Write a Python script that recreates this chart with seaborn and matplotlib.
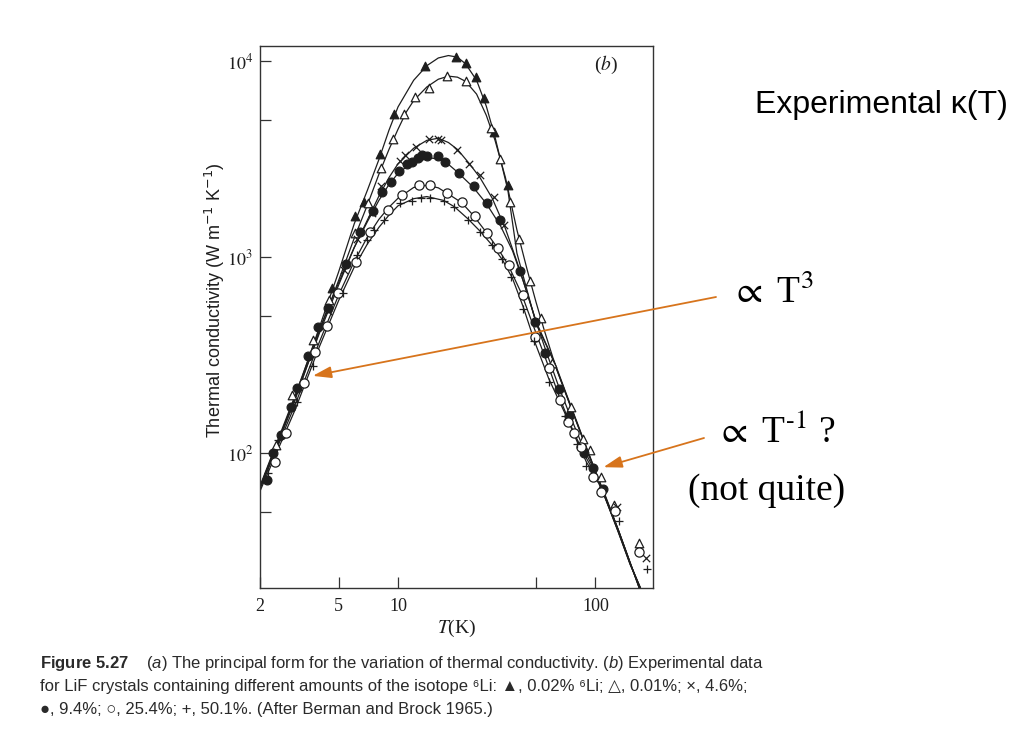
import matplotlib
matplotlib.use('Agg')
import matplotlib.pyplot as plt
import seaborn as sns
from matplotlib.ticker import FixedLocator, NullLocator

# ---- markers (T in K, kappa in W m^-1 K^-1) ----
# filled triangle, 0.02% 6Li
t_tri_full = [4.63, 6.09, 6.69, 8.11, 9.54, 13.7, 19.6, 22.0, 24.9, 27.3, 30.8, 35.9]
k_tri_full = [700, 1625, 1908, 3355, 5383, 9497, 10480, 9770, 8280, 6474, 4374, 2338]
# open triangle, 0.01%
t_tri_open = [2.42, 2.89, 3.7, 4.46, 6.06, 7.05, 8.2, 9.48, 10.7, 12.2, 14.4, 17.8, 22.2,
              29.6, 32.7, 37.1, 40.8, 46.5, 53.0, 60.3, 75.0, 86.0, 93.9, 107, 124, 167]
k_tri_open = [110, 198, 379, 606, 1335, 1900, 2866, 4030, 5383, 6550, 7280, 8414, 7935,
              4550, 3170, 1920, 1240, 754, 492, 288, 173, 118, 104, 75.4, 54.6, 34.6]
# cross, 4.6%
t_cross = [4.4, 5.3, 6.18, 7.42, 8.2, 10.2, 10.8, 12.3, 14.4, 15.9, 16.6, 20.0, 22.8,
           25.9, 30.5, 34.6, 128, 180]
k_cross = [530, 860, 1240, 1677, 2311, 3111, 3325, 3667, 4014, 4014, 3960, 3527, 2992,
           2630, 2039, 1462, 53, 29.2]
# filled circle, 9.4%
t_dot = [2.16, 2.32, 2.55, 2.87, 3.08, 3.51, 3.92, 4.41, 5.45, 6.43, 7.51, 8.34, 9.18,
         10.1, 11.06, 11.8, 12.6, 13.3, 13.95, 15.9, 17.2, 20.3, 24.2, 28.3, 33.0, 41.6,
         49.5, 55.7, 65.6, 73.7, 87.7, 96.9, 108.7]
k_dot = [73, 100, 124, 173, 215, 313, 442, 549, 924, 1351, 1723, 2161, 2430,
         2766, 2992, 3074, 3200, 3325, 3288, 3288, 3074, 2683, 2311, 1886, 1550, 850,
         469, 324, 212, 155, 100, 84, 65.5]
# open circle, 25.4%
t_ring = [2.37, 2.70, 3.35, 3.79, 4.35, 4.98, 6.1, 7.22, 8.9, 10.5, 12.8, 14.6, 17.7,
          21.1, 24.4, 28.3, 32.0, 36.4, 42.8, 49.6, 58.2, 66.4, 72.9, 77.6, 84.0, 97.5,
          107, 125.6, 167]
k_ring = [90.6, 127, 229, 330, 446, 660, 950, 1351, 1743, 2079, 2338, 2338, 2121,
          1922, 1625, 1326, 1120, 913, 642, 393, 272, 187, 145, 127, 107, 76,
          63, 50.4, 31.3]
# plus, 50.1%
t_plus = [2.2, 2.48, 3.08, 3.7, 5.24, 6.18, 7.0, 7.56, 8.5, 10.2, 11.8, 13.1, 14.6, 17.1,
          19.3, 22.6, 26.0, 30.0, 33.6, 37.4, 42.8, 48.6, 58.5, 70.3, 80.7, 89.6, 132, 183]
k_plus = [79, 117, 183, 277, 655, 1027, 1226, 1378, 1550, 1886, 1945, 2000, 2000, 1945,
          1812, 1550, 1350, 1150, 977, 790, 545, 375, 230, 154, 112, 86, 44.8, 25.6]

# ---- drawn curves, read along the lines of the scan ----
ct_tri_full = [2.0, 3, 4, 5, 6, 7, 8, 9, 10, 12, 14, 16, 18, 20, 22, 25, 28, 31, 36, 40,
               45, 50, 61, 70, 80, 92, 110, 130, 150, 170]
ck_tri_full = [67, 190, 440, 840, 1480, 2200, 3150, 4450, 5850, 8000, 9500, 10400, 10700,
               10500, 9700, 8000, 5900, 4100, 2200, 1050, 680, 460, 300, 207, 145, 100, 62,
               40, 27, 20.2]
ct_tri_open = [2.0, 3, 4, 5, 6, 7, 8, 9, 10, 11, 12, 14, 16, 18, 20, 22, 25, 28, 31, 35,
               40, 45, 50, 55, 61, 70, 80, 92, 110, 130, 150, 170]
ck_tri_open = [66, 185, 420, 760, 1250, 1850, 2650, 3550, 4500, 5500, 6300, 7400, 8100,
               8400, 8300, 7900, 6800, 5300, 3950, 2550, 1380, 870, 590, 425, 305, 210, 147,
               101, 63, 40.5, 27.3, 20.2]
ct_cross = [2.0, 3, 4, 5, 6, 7, 8, 9, 10, 12, 14, 16, 18, 20, 23, 26, 30, 35, 40, 45, 50,
            61, 70, 80, 92, 110, 130, 150, 170]
ck_cross = [67, 190, 410, 720, 1120, 1550, 2050, 2550, 3000, 3600, 3950, 4050, 3850, 3550,
            3000, 2550, 2000, 1400, 950, 660, 470, 300, 207, 145, 100, 62, 40, 27, 20.2]
ct_dot = [2.0, 3, 4, 5, 6, 7, 8, 9, 10, 12, 14, 16, 18, 20, 24, 28, 33, 38, 43, 50, 56,
          65, 75, 88, 100, 110, 130, 150, 167]
ck_dot = [68, 195, 430, 740, 1120, 1520, 1950, 2350, 2680, 3080, 3220, 3180, 2980, 2720,
          2280, 1880, 1450, 1080, 760, 470, 335, 220, 152, 103, 80, 64, 41, 27.5, 20.4]
ct_ring = [2.0, 3, 4, 5, 6, 7, 8, 9, 10, 12, 14, 16, 18, 21, 24, 28, 32, 36, 42, 50, 58,
           66, 77, 88, 100, 110, 130, 150, 167]
ck_ring = [66, 175, 370, 640, 950, 1270, 1560, 1800, 2000, 2270, 2330, 2260, 2100, 1900,
           1640, 1340, 1110, 920, 660, 410, 275, 190, 130, 98, 78, 63, 41, 27.5, 20.4]
ct_plus = [2.0, 3, 4, 5, 6, 7, 8, 9, 10, 12, 14, 17, 19.3, 22.6, 26, 30, 34, 38, 43, 49,
           58, 70, 80, 90, 100, 110, 130, 150, 167]
ck_plus = [64, 165, 350, 600, 890, 1170, 1420, 1640, 1830, 1990, 2040, 1950, 1810, 1570,
           1360, 1150, 960, 780, 560, 375, 240, 160, 117, 90, 76, 62, 41, 27.5, 20.4]

x_ticks = [2, 5, 10, 50, 100]
x_tick_labels = ['2', '5', '10', '', '100']
y_ticks = [100, 1000, 10000]
y_tick_labels = [r'$10^{2}$', r'$10^{3}$', r'$10^{4}$']
y_minor = [50, 500, 5000]

ink = '#1e1e1e'
orange = '#d7741c'

sns.set_style('ticks')
plt.rcParams['mathtext.fontset'] = 'custom'
plt.rcParams['mathtext.rm'] = 'Liberation Sans'
plt.rcParams['mathtext.it'] = 'Liberation Sans:italic'
plt.rcParams['mathtext.bf'] = 'Liberation Sans:bold'
plt.rcParams['font.family'] = ['Liberation Sans', 'DejaVu Sans']

W, H = 1026, 748
fig = plt.figure(figsize=(W / 100, H / 100), dpi=100)
fig.patch.set_facecolor('white')
ax = fig.add_axes([260 / W, 1 - 588 / H, 393 / W, 542 / H])
ax.set_xscale('log')
ax.set_yscale('log')

series = [
    (t_tri_full, k_tri_full, ct_tri_full, ck_tri_full, '^', ink, 38),
    (t_tri_open, k_tri_open, ct_tri_open, ck_tri_open, '^', 'white', 38),
    (t_cross, k_cross, ct_cross, ck_cross, 'x', ink, 28),
    (t_dot, k_dot, ct_dot, ck_dot, 'o', ink, 40),
    (t_ring, k_ring, ct_ring, ck_ring, 'o', 'white', 44),
    (t_plus, k_plus, ct_plus, ck_plus, '+', ink, 34),
]

for t, k, ct, ck, mk, face, size in series:
    sns.lineplot(x=ct, y=ck, sort=False, estimator=None, color=ink, lw=0.9, ax=ax)
for t, k, ct, ck, mk, face, size in series:
    sns.scatterplot(x=t, y=k, marker=mk, color=face, edgecolor=ink, s=size,
                    linewidth=0.9, ax=ax, zorder=3)

ax.set_xlim(2.0, 195.6)
ax.set_ylim(20.5, 11970)

ax.xaxis.set_major_locator(FixedLocator(x_ticks))
ax.xaxis.set_minor_locator(NullLocator())
ax.set_xticklabels(x_tick_labels, fontfamily='Liberation Serif', fontsize=13, color=ink)
ax.yaxis.set_major_locator(FixedLocator(y_ticks))
ax.yaxis.set_minor_locator(FixedLocator(y_minor))
ax.set_yticklabels(y_tick_labels, fontsize=13, color=ink, math_fontfamily='stix')
ax.tick_params(axis='both', which='both', direction='in', length=8, width=0.9,
               color='#333333', top=False, right=False)
ax.tick_params(axis='x', pad=7)
ax.tick_params(axis='y', pad=5)
for sp in ax.spines.values():
    sp.set_visible(True)
    sp.set_color('#333333')
    sp.set_linewidth(1.0)

ax.set_ylabel(r'Thermal conductivity (W m$^{-1}$ K$^{-1}$)', fontsize=13, color=ink,
              math_fontfamily='dejavusans')
ax.yaxis.set_label_coords(-0.085, 0.53)
ax.set_xlabel(r'$T$(K)', fontsize=14, color=ink, fontfamily='Liberation Serif',
              math_fontfamily='stix', labelpad=2)
ax.text(0.88, 0.965, r'($b$)', transform=ax.transAxes, ha='center', va='center',
        fontsize=14, color=ink, fontfamily='Liberation Serif', math_fontfamily='stix')

# annotations on the slide
fig.text(755 / W, 1 - 113 / H, 'Experimental \u03ba(T)', fontsize=23, color='black',
         fontfamily='Liberation Sans', va='baseline')
fig.text(731 / W, 1 - 303 / H, r'$\propto$ T$^{3}$', fontsize=27, color='black',
         fontfamily='Liberation Serif', math_fontfamily='stix', va='baseline')
fig.text(716 / W, 1 - 443 / H, r'$\propto$ T$^{\text{-}1}$ ?', fontsize=27, color='black',
         fontfamily='Liberation Serif', math_fontfamily='stix', va='baseline')
fig.text(688 / W, 1 - 500 / H, '(not quite)', fontsize=27, color='black',
         fontfamily='Liberation Serif', va='baseline')

arrow = dict(arrowstyle='-|>,head_length=0.7,head_width=0.22', color=orange, lw=1.3,
             mutation_scale=16, shrinkA=0, shrinkB=0)
ax.annotate('', xy=(3.70, 248), xycoords='data', xytext=(716, H - 297),
            textcoords='figure pixels', arrowprops=arrow, annotation_clip=False)
ax.annotate('', xy=(109.7, 84.8), xycoords='data', xytext=(704, H - 438),
            textcoords='figure pixels', arrowprops=arrow, annotation_clip=False)

# caption of the book figure
cap = dict(fontsize=12, color='#2a2a2a', va='baseline')
fig.text(40 / W, 1 - 668 / H,
         r'$\mathbf{Figure\ 5.27}$    $\mathit{(a)}$ The principal form for the variation of '
         r'thermal conductivity. $\mathit{(b)}$ Experimental data', **cap)
fig.text(40 / W, 1 - 691 / H,
         'for LiF crystals containing different amounts of the isotope \u2076Li: \u25b2, 0.02% '
         '\u2076Li; \u25b3, 0.01%; \u00d7, 4.6%;', fontfamily=['Liberation Sans', 'DejaVu Sans'],
         **cap)
fig.text(40 / W, 1 - 714 / H,
         '\u25cf, 9.4%; \u25cb, 25.4%; +, 50.1%. (After Berman and Brock 1965.)',
         fontfamily=['Liberation Sans', 'DejaVu Sans'], **cap)

fig.savefig('out.png', dpi=100, facecolor='white')
